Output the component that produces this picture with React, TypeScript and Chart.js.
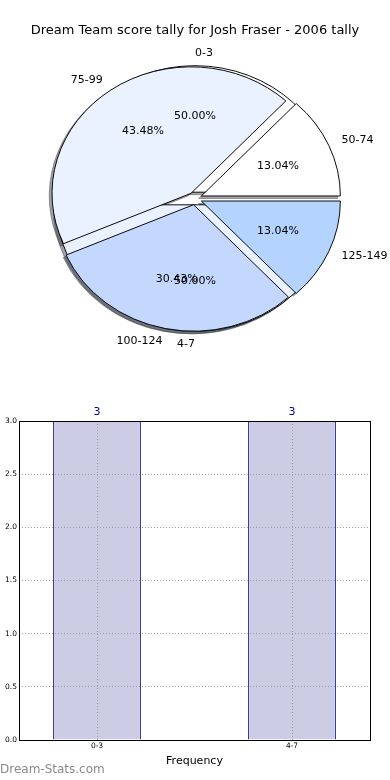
import React, { useEffect, useRef } from 'react';
import { Chart, registerables } from 'chart.js';

Chart.register(...registerables);

const TITLE = 'Dream Team score tally for Josh Fraser - 2006 tally';
const WATERMARK = 'Dream-Stats.com';

// Pie drawn first (behind), counter-clockwise from east
const backLabels = ['0-3', '4-7'];
const backValues = [3, 3];
const backColors = ['#ffffff', '#eaf1ff'];

// Pie drawn second (in front), counter-clockwise from east
const frontLabels = ['50-74', '75-99', '100-124', '125-149'];
const frontValues = [3, 10, 7, 3];
const frontColors = ['#ffffff', '#eaf1ff', '#c4d8ff', '#b4d4ff'];

// Histogram
const barCategories = ['0-3', '4-7'];
const barValues = [3, 3];
const barPositions = [0, 1];
const yTickValues = [0, 0.5, 1, 1.5, 2, 2.5, 3];

const FONT = '"DejaVu Sans", "Bitstream Vera Sans", sans-serif';

const rev = (a: any[]) => [...a].reverse();

function shadowOf(hex: string) {
  const h = hex.replace('#', '');
  const r = parseInt(h.slice(0, 2), 16);
  const g = parseInt(h.slice(2, 4), 16);
  const b = parseInt(h.slice(4, 6), 16);
  return `rgba(${Math.round(r * 0.3)},${Math.round(g * 0.3)},${Math.round(b * 0.3)},0.5)`;
}

const mplPie = {
  id: 'mplPie',
  afterDatasetsUpdate(chart: any, _a: any, opts: any) {
    const R = opts.radius;
    chart.data.datasets.forEach((_ds: any, i: number) => {
      const meta = chart.getDatasetMeta(i);
      meta.data.forEach((arc: any) => {
        const mid = (arc.startAngle + arc.endAngle) / 2;
        arc.innerRadius = 0;
        arc.outerRadius = R;
        arc.x = arc.x + Math.cos(mid) * opts.explode * R;
        arc.y = arc.y + Math.sin(mid) * opts.explode * R;
      });
    });
  },
  beforeDatasetsDraw(chart: any, _a: any, opts: any) {
    const ctx = chart.ctx;
    const ca = chart.chartArea;
    const cy = (ca.top + ca.bottom) / 2;
    const R = opts.radius;
    ctx.save();
    ctx.translate(0, cy);
    ctx.scale(1, opts.yScale);
    ctx.translate(0, -cy);
    // shadows (under every wedge): back pie first, then front pie
    const n = chart.data.datasets.length;
    for (let i = n - 1; i >= 0; i--) {
      const meta = chart.getDatasetMeta(i);
      meta.data.forEach((arc: any) => {
        const o = arc.options;
        const sc = shadowOf(o.backgroundColor);
        arc.options = Object.assign({}, o, { backgroundColor: sc, borderColor: sc });
        ctx.save();
        ctx.translate(-opts.shadow * R, opts.shadow * R);
        arc.draw(ctx);
        ctx.restore();
        arc.options = o;
      });
    }
  },
  afterDatasetsDraw(chart: any, _a: any, opts: any) {
    const ctx = chart.ctx;
    ctx.restore();
    const ca = chart.chartArea;
    const cx = (ca.left + ca.right) / 2;
    const cy = (ca.top + ca.bottom) / 2;
    const R = opts.radius;
    ctx.save();
    ctx.fillStyle = '#000';
    ctx.font = `11px ${FONT}`;
    ctx.textBaseline = 'middle';
    const n = chart.data.datasets.length;
    for (let i = n - 1; i >= 0; i--) {
      const ds = chart.data.datasets[i];
      const total = ds.data.reduce((s: number, v: number) => s + v, 0);
      const meta = chart.getDatasetMeta(i);
      meta.data.forEach((arc: any, j: number) => {
        const mid = (arc.startAngle + arc.endAngle) / 2;
        const c = Math.cos(mid);
        const s = Math.sin(mid);
        const fl = opts.labelDistance + opts.explode;
        const lx = cx + fl * R * c;
        const ly = cy + opts.yScale * fl * R * s;
        ctx.textAlign = Math.abs(c) < 1e-9 ? (s < 0 ? 'left' : 'right') : c > 0 ? 'left' : 'right';
        ctx.fillText(ds.sliceLabels[j], lx, ly);
        const fp = opts.pctDistance + opts.explode;
        const px = cx + fp * R * c;
        const py = cy + opts.yScale * fp * R * s;
        ctx.textAlign = 'center';
        ctx.fillText(((ds.data[j] / total) * 100).toFixed(2) + '%', px, py);
      });
    }
    ctx.restore();
  },
};

const barExtras = {
  id: 'barExtras',
  afterDatasetsDraw(chart: any) {
    const ctx = chart.ctx;
    const meta = chart.getDatasetMeta(0);
    ctx.save();
    ctx.fillStyle = '#000080';
    ctx.font = `11px ${FONT}`;
    ctx.textAlign = 'center';
    ctx.textBaseline = 'middle';
    meta.data.forEach((bar: any, i: number) => {
      ctx.fillText(String(barValues[i]), bar.x, bar.y - 9);
    });
    ctx.restore();
  },
  afterDraw(chart: any) {
    const ctx = chart.ctx;
    const ca = chart.chartArea;
    ctx.save();
    ctx.strokeStyle = '#000';
    ctx.lineWidth = 1;
    ctx.strokeRect(ca.left + 0.5, ca.top + 0.5, ca.right - ca.left, ca.bottom - ca.top);
    ctx.restore();
  },
};

export default function App() {
  const pieRef = useRef<HTMLCanvasElement>(null);
  const barRef = useRef<HTMLCanvasElement>(null);

  useEffect(() => {
    const pieDs = (labels: string[], values: number[], colors: string[]) => ({
      data: rev(values),
      backgroundColor: rev(colors),
      sliceLabels: rev(labels),
      borderColor: '#000000',
      borderWidth: 1,
      radius: 139,
    });

    const pie = new Chart(pieRef.current as HTMLCanvasElement, {
      type: 'pie',
      data: {
        labels: rev(frontLabels),
        datasets: [pieDs(frontLabels, frontValues, frontColors), pieDs(backLabels, backValues, backColors)] as any,
      },
      options: {
        animation: false,
        responsive: false,
        events: [],
        rotation: 90,
        layout: { padding: { top: 7 } },
        plugins: {
          legend: { display: false },
          tooltip: { enabled: false },
          mplPie: { radius: 139, explode: 0.05, yScale: 0.91, shadow: 0.02, labelDistance: 1.1, pctDistance: 0.6 },
        } as any,
      },
      plugins: [mplPie as any],
    });

    const tickFont = { family: FONT, size: 7.5 };
    const bar = new Chart(barRef.current as HTMLCanvasElement, {
      type: 'bar',
      data: {
        datasets: [
          {
            data: barPositions.map((x, i) => ({ x, y: barValues[i] })),
            backgroundColor: '#ccccE4',
            borderColor: '#000080',
            borderWidth: 1,
            borderSkipped: 'bottom',
            barPercentage: 0.45,
            categoryPercentage: 1,
          },
        ] as any,
      },
      options: {
        animation: false,
        responsive: false,
        events: [],
        layout: { padding: { top: 26, right: 20, left: 0, bottom: 0 } },
        plugins: { legend: { display: false }, tooltip: { enabled: false } },
        scales: {
          x: {
            type: 'linear',
            min: -0.4,
            max: 1.4,
            offset: false,
            afterBuildTicks: (s: any) => {
              s.ticks = barPositions.map((v) => ({ value: v }));
            },
            afterFit: (s: any) => {
              s.height = 40;
            },
            grid: { color: '#a0a0a0', drawTicks: false, offset: false, z: 1 },
            border: { display: false, dash: [1, 2] },
            ticks: {
              padding: 2,
              color: '#000',
              font: tickFont,
              callback: (v: any) => {
                const k = barPositions.indexOf(Number(v));
                return k >= 0 ? barCategories[k] : '';
              },
            },
            title: {
              display: true,
              text: 'Frequency',
              color: '#000',
              font: { family: FONT, size: 11 },
              padding: { top: 0, bottom: 12 },
            },
          },
          y: {
            min: 0,
            max: 3,
            afterBuildTicks: (s: any) => {
              s.ticks = yTickValues.map((v) => ({ value: v }));
            },
            afterFit: (s: any) => {
              s.width = 19;
            },
            grid: { color: '#a0a0a0', drawTicks: false, z: 1 },
            border: { display: false, dash: [1, 2] },
            ticks: {
              padding: 2,
              color: '#000',
              font: tickFont,
              callback: (v: any) => Number(v).toFixed(1),
            },
          },
        } as any,
      },
      plugins: [barExtras as any],
    });

    return () => {
      pie.destroy();
      bar.destroy();
    };
  }, []);

  return (
    <div
      style={{
        position: 'fixed',
        left: 0,
        top: 0,
        width: 390,
        height: 780,
        background: '#ffffff',
        fontFamily: FONT,
        overflow: 'hidden',
      }}
    >
      <canvas ref={pieRef} width={390} height={390} style={{ position: 'absolute', left: 0, top: 0 }} />
      <canvas ref={barRef} width={390} height={385} style={{ position: 'absolute', left: 0, top: 395 }} />
      <div
        style={{
          position: 'absolute',
          left: 0,
          top: 22,
          width: 390,
          textAlign: 'center',
          fontSize: 13,
          lineHeight: '16px',
          color: '#000',
        }}
      >
        {TITLE}
      </div>
      <div
        style={{
          position: 'absolute',
          left: 0,
          top: 762,
          fontSize: 12,
          lineHeight: '15px',
          color: '#8a8a8a',
        }}
      >
        {WATERMARK}
      </div>
    </div>
  );
}
